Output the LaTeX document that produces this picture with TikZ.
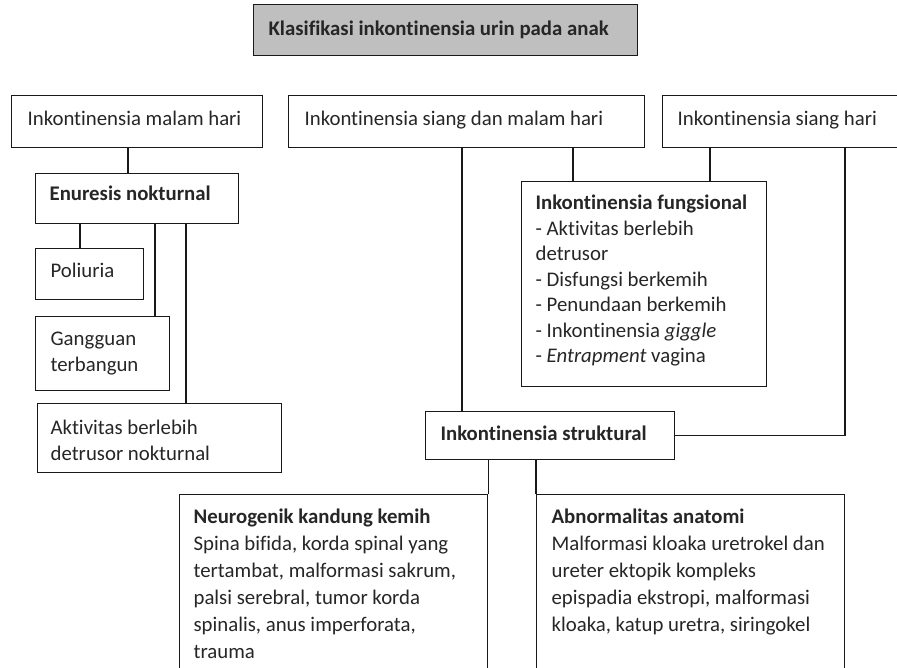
\documentclass[tikz,border=0pt]{standalone}
\usepackage{fontspec}
\setmainfont{Carlito}[Ligatures=CommonOff]
\usepackage{tikz}

% box text: width, height, left pad, first baseline, text
\newcommand{\isi}[5]{\parbox[t][#2pt][t]{#1pt}{\raggedright\leftskip=#3pt\rule{0pt}{#4pt}#5}}

\begin{document}
\begin{tikzpicture}[x=1pt, y=-1pt]
            \clip (0,0) rectangle (897,667);

            \begin{scope}[every node/.style={draw=black!90, line width=1.2pt, anchor=north west, inner sep=0pt, text=black!85, font=\fontsize{20.8}{25.5}\selectfont}]
                \node[fill=black!25] (judul) at (253,4) {\isi{384}{51}{15}{31}{\textbf{Klasifikasi inkontinensia urin pada anak}}};
                \node (malam) at (11,95) {\isi{251}{52}{16}{30}{Inkontinensia malam hari}};
                \node (siangmalam) at (288,95) {\isi{356}{52}{16}{30}{Inkontinensia siang dan malam hari}};
                \node (siang) at (662,95) {\isi{260}{52}{15}{30}{Inkontinensia siang hari}};
                \node (enuresis) at (35,173) {\isi{203}{50}{14}{27}{\textbf{Enuresis nokturnal}}};
                \node (poliuria) at (35,248) {\isi{108}{51}{15}{29}{Poliuria}};
                \node (gangguan) at (35,316) {\isi{134}{74}{15}{29}{Gangguan\\terbangun}};
                \node (aktivitas) at (37,403) {\isi{244}{69}{13}{31}{Aktivitas berlebih\\detrusor nokturnal}};
                \node (fungsional) at (521,181) {\isi{245}{205}{14}{28}{\textbf{Inkontinensia fungsional}\\- Aktivitas berlebih\\detrusor\\- Disfungsi berkemih\\- Penundaan berkemih\\- Inkontinensia \textit{giggle}\\- \textit{Entrapment} vagina}};
                \node (struktural) at (425,411) {\isi{249}{48}{15}{29}{\textbf{Inkontinensia struktural}}};
                \node (neurogenik) at (179,494) {\isi{308}{200}{14}{29}{\baselineskip=27pt\textbf{Neurogenik kandung kemih}\\Spina bifida, korda spinal yang\\tertambat, malformasi sakrum,\\palsi serebral, tumor korda\\spinalis, anus imperforata,\\trauma}};
                \node (abnormal) at (536,494) {\isi{308}{200}{15}{29}{\baselineskip=27pt\textbf{Abnormalitas anatomi}\\Malformasi kloaka uretrokel dan\\ureter ektopik kompleks\\epispadia ekstropi, malformasi\\kloaka, katup uretra, siringokel}};
            \end{scope}

            \begin{scope}[every edge/.style={draw=black!90, line width=1.1pt}]
                \path (malam.south -| 128,0) edge (enuresis.north -| 128,0);
                \path (enuresis.south -| 80,0) edge (poliuria.north -| 80,0);
                \path (enuresis.south -| 155,0) edge (gangguan.north -| 155,0);
                \path (enuresis.south -| 186,0) edge (aktivitas.north -| 186,0);
                \path (siangmalam.south -| 462,0) edge (struktural.north -| 462,0);
                \path (siangmalam.south -| 573,0) edge (fungsional.north -| 573,0);
                \path (siang.south -| 710,0) edge (fungsional.north -| 710,0);
                \path (siang.south -| 845,0) edge[to path={|- (\tikztotarget)}] (struktural.east);
                \path (struktural.south -| neurogenik.east) edge (neurogenik.north east);
                \path (struktural.south -| abnormal.west) edge (abnormal.north west);
            \end{scope}
\end{tikzpicture}
\end{document}
